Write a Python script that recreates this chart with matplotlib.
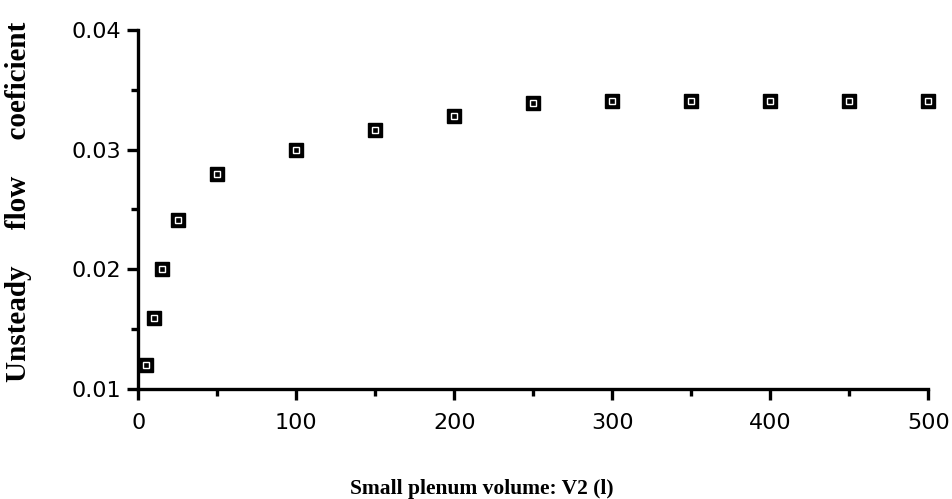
import matplotlib
matplotlib.use('Agg')
import matplotlib.pyplot as plt
from matplotlib.ticker import MultipleLocator

# volume V2 (l) and unsteady flow coefficient
volume = [5, 10, 15, 25, 50, 100, 150, 200, 250, 300, 350, 400, 450, 500]
flow_coef = [0.0120, 0.0159, 0.0200, 0.0241, 0.0280, 0.0300, 0.0316,
             0.0328, 0.0339, 0.0341, 0.0341, 0.0341, 0.0341, 0.0341]
ytick_vals = [0.01, 0.02, 0.03, 0.04]
ytick_labels = ['0.01', '0.02', '0.03', '0.04']

fig = plt.figure(figsize=(9.53, 4.99), dpi=100)
ax = fig.add_axes([0.145, 0.2204, 0.829, 0.7196])

# black square with small white square inside
ax.plot(volume, flow_coef, linestyle='none', marker='s', markersize=10.5,
        color='black', clip_on=False, zorder=3)
ax.plot(volume, flow_coef, linestyle='none', marker='s', markersize=4,
        markerfacecolor='none', markeredgecolor='white', markeredgewidth=1,
        clip_on=False, zorder=4)

ax.set_xlim(0, 500)
ax.set_ylim(0.01, 0.04)
ax.xaxis.set_major_locator(MultipleLocator(100))
ax.xaxis.set_minor_locator(MultipleLocator(50))
ax.set_yticks(ytick_vals)
ax.set_yticklabels(ytick_labels)
ax.yaxis.set_minor_locator(MultipleLocator(0.005))

for s in ['top', 'right']:
    ax.spines[s].set_visible(False)
for s in ['left', 'bottom']:
    ax.spines[s].set_linewidth(2.4)

ax.tick_params(which='major', direction='out', length=8, width=2.4,
               labelsize=16)
ax.tick_params(axis='x', which='major', pad=9)
ax.tick_params(axis='y', which='major', pad=4)
ax.tick_params(which='minor', direction='out', length=5, width=2.4)
for lab in ax.get_xticklabels() + ax.get_yticklabels():
    lab.set_fontfamily('DejaVu Sans')

ax.set_xlabel('Small plenum volume: V2 (l)', fontfamily='Liberation Serif',
              fontweight='bold', fontsize=15.5)
ax.xaxis.set_label_coords(0.435, -0.25)
ax.set_ylabel('Unsteady     flow     coeficient', fontfamily='Liberation Serif',
              fontweight='bold', fontsize=21)
ax.yaxis.set_label_coords(-0.135, 0.52)

plt.savefig('out.png', dpi=100)
